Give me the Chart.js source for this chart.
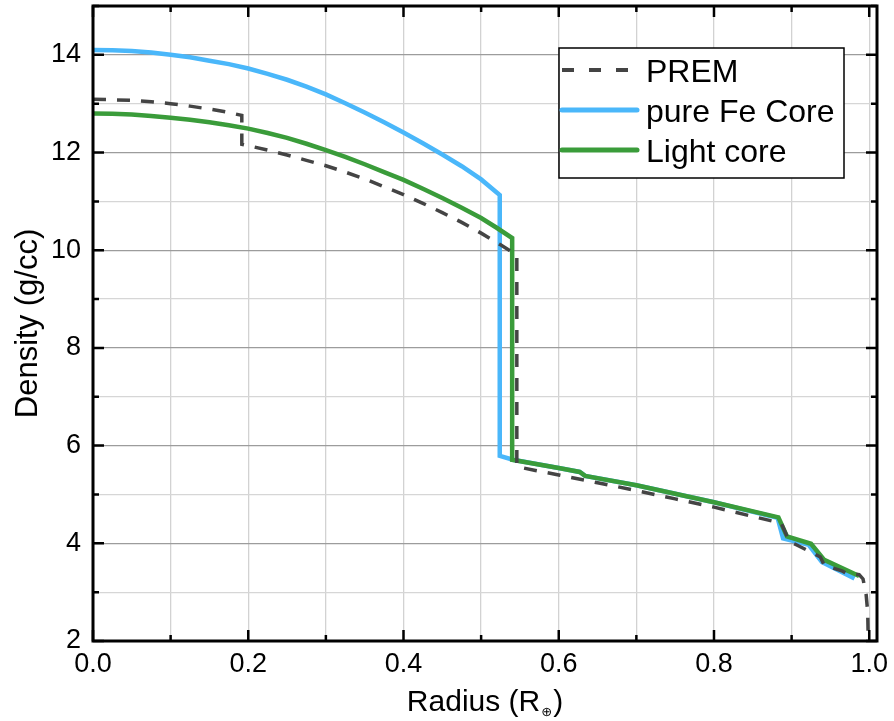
<!DOCTYPE html>
<html>
<head>
<meta charset="utf-8">
<title>Density profile</title>
<script src="https://cdn.jsdelivr.net/npm/chart.js@4.4.0/dist/chart.umd.min.js"></script>
<style>
  html, body { margin: 0; padding: 0; background: #fff; }
  #wrap { width: 894px; height: 721px; }
</style>
</head>
<body>
<div id="wrap"><canvas id="chartDensity" width="894" height="721"></canvas></div>
<script>
// Dados (raio em R_terra, densidade em g/cc)
const premR = [0, 0.025, 0.05, 0.075, 0.1, 0.125, 0.15, 0.175, 0.1917, 0.1917, 0.225, 0.25, 0.275, 0.3, 0.325, 0.35, 0.375, 0.4, 0.425, 0.45, 0.475, 0.5, 0.525, 0.546, 0.546, 0.57, 0.6, 0.65, 0.7, 0.75, 0.8, 0.85, 0.879, 0.887, 0.897, 0.906, 0.925, 0.937, 0.942, 0.9655, 0.97, 0.987, 0.992, 0.996, 0.998, 1.0];
const premRho = [13.09, 13.08, 13.07, 13.04, 13.00, 12.95, 12.89, 12.82, 12.76, 12.17, 12.05, 11.95, 11.84, 11.73, 11.60, 11.46, 11.30, 11.14, 10.96, 10.77, 10.57, 10.35, 10.11, 9.90, 5.57, 5.49, 5.40, 5.24, 5.08, 4.91, 4.74, 4.55, 4.44, 4.40, 4.04, 3.97, 3.82, 3.72, 3.55, 3.43, 3.39, 3.36, 3.27, 2.95, 2.6, 1.02];

const feR = [0, 0.025, 0.05, 0.075, 0.1, 0.125, 0.15, 0.175, 0.2, 0.225, 0.25, 0.275, 0.3, 0.325, 0.35, 0.375, 0.4, 0.425, 0.45, 0.475, 0.5, 0.524, 0.524, 0.541, 0.6, 0.627, 0.634, 0.7, 0.8, 0.882, 0.889, 0.922, 0.939, 0.981];
const feRho = [14.10, 14.095, 14.08, 14.05, 14.00, 13.95, 13.88, 13.81, 13.72, 13.61, 13.49, 13.35, 13.19, 13.01, 12.82, 12.62, 12.41, 12.19, 11.96, 11.72, 11.45, 11.13, 5.79, 5.71, 5.54, 5.46, 5.38, 5.19, 4.84, 4.52, 4.10, 3.97, 3.62, 3.28];

const lightR = [0, 0.025, 0.05, 0.075, 0.1, 0.125, 0.15, 0.175, 0.2, 0.225, 0.25, 0.275, 0.3, 0.325, 0.35, 0.375, 0.4, 0.425, 0.45, 0.475, 0.5, 0.52, 0.54, 0.54, 0.6, 0.627, 0.634, 0.7, 0.8, 0.883, 0.894, 0.925, 0.942, 0.987];
const lightRho = [12.80, 12.795, 12.78, 12.75, 12.71, 12.67, 12.62, 12.56, 12.49, 12.40, 12.30, 12.18, 12.05, 11.91, 11.76, 11.60, 11.44, 11.26, 11.07, 10.87, 10.66, 10.46, 10.25, 5.71, 5.54, 5.46, 5.38, 5.19, 4.84, 4.53, 4.14, 3.99, 3.66, 3.33];

const seriesNames = ['PREM', 'pure Fe Core', 'Light core'];

// Ticks (major = com rótulo)
const xTicks = [0, 0.1, 0.2, 0.3, 0.4, 0.5, 0.6, 0.7, 0.8, 0.9, 1.0];
const xTickLabels = ['0.0', '', '0.2', '', '0.4', '', '0.6', '', '0.8', '', '1.0'];
const yTicks = [2, 3, 4, 5, 6, 7, 8, 9, 10, 11, 12, 13, 14, 15];
const yTickLabels = ['2', '', '4', '', '6', '', '8', '', '10', '', '12', '', '14', ''];

const FONT = "'Liberation Sans', Arial, 'DejaVu Sans', sans-serif";
const COLORS = { prem: '#444444', fe: '#4ab7fa', light: '#3a9c3a' };

function toPoints(xs, ys) {
    return xs.map((x, i) => ({ x: x, y: ys[i] }));
}

// Moldura, ticks internos, legenda e títulos dos eixos
const framePlugin = {
    id: 'frame',
    afterDraw(chart) {
        const ctx = chart.ctx;
        const a = chart.chartArea;
        const sx = chart.scales.x, sy = chart.scales.y;
        ctx.save();

        // ticks para dentro, nos quatro lados
        ctx.strokeStyle = '#000';
        ctx.lineWidth = 2.5;
        xTicks.forEach((v, i) => {
            const px = sx.getPixelForValue(v);
            const len = xTickLabels[i] ? 11 : 6;
            ctx.beginPath();
            ctx.moveTo(px, a.bottom); ctx.lineTo(px, a.bottom - len);
            ctx.moveTo(px, a.top); ctx.lineTo(px, a.top + len);
            ctx.stroke();
        });
        yTicks.forEach((v, i) => {
            const py = sy.getPixelForValue(v);
            const len = yTickLabels[i] ? 11 : 6;
            ctx.beginPath();
            ctx.moveTo(a.left, py); ctx.lineTo(a.left + len, py);
            ctx.moveTo(a.right, py); ctx.lineTo(a.right - len, py);
            ctx.stroke();
        });

        ctx.lineWidth = 3;
        ctx.strokeRect(a.left, a.top, a.right - a.left, a.bottom - a.top);

        // legenda
        const lx = 559, ly = 48, lw = 285, lh = 130;
        ctx.fillStyle = '#fff';
        ctx.fillRect(lx, ly, lw, lh);
        ctx.lineWidth = 1.5;
        ctx.strokeRect(lx, ly, lw, lh);
        const rows = [
            { name: seriesNames[0], color: COLORS.prem, dash: [12, 15], width: 4 },
            { name: seriesNames[1], color: COLORS.fe, dash: [], width: 5 },
            { name: seriesNames[2], color: COLORS.light, dash: [], width: 5 }
        ];
        ctx.font = '32px ' + FONT;
        ctx.textBaseline = 'alphabetic';
        ctx.textAlign = 'left';
        rows.forEach((r, i) => {
            const y = 70 + i * 40;
            ctx.strokeStyle = r.color;
            ctx.lineWidth = r.width;
            ctx.lineCap = r.dash.length ? 'butt' : 'round';
            ctx.setLineDash(r.dash);
            ctx.beginPath();
            ctx.moveTo(562, y); ctx.lineTo(637, y);
            ctx.stroke();
            ctx.setLineDash([]);
            ctx.fillStyle = '#000';
            ctx.fillText(r.name, 646, y + 12);
        });

        // título do eixo x com subscrito
        ctx.fillStyle = '#000';
        const t1 = 'Radius (R', t3 = ')';
        ctx.font = '30px ' + FONT;
        const w1 = ctx.measureText(t1).width;
        const w3 = ctx.measureText(t3).width;
        ctx.font = '13px ' + FONT;
        const w2 = ctx.measureText('\u2295').width;
        const cx = (a.left + a.right) / 2;
        const x0 = cx - (w1 + w2 + w3 + 2) / 2;
        const base = 711;
        ctx.font = '30px ' + FONT;
        ctx.fillText(t1, x0, base);
        ctx.font = '13px ' + FONT;
        ctx.fillText('\u2295', x0 + w1 + 1, base + 5);
        ctx.font = '30px ' + FONT;
        ctx.fillText(t3, x0 + w1 + w2 + 2, base);

        // título do eixo y
        ctx.font = '31px ' + FONT;
        ctx.translate(37, (a.top + a.bottom) / 2);
        ctx.rotate(-Math.PI / 2);
        ctx.textAlign = 'center';
        ctx.fillText('Density (g/cc)', 0, 0);

        ctx.restore();
    }
};

document.addEventListener('DOMContentLoaded', function () {
    const canvas = document.getElementById('chartDensity');

    new Chart(canvas, {
        type: 'line',
        data: {
            datasets: [
                {
                    label: seriesNames[0],
                    data: toPoints(premR, premRho),
                    borderColor: COLORS.prem,
                    borderWidth: 3.5,
                    borderDash: [13, 11],
                    order: 0
                },
                {
                    label: seriesNames[1],
                    data: toPoints(feR, feRho),
                    borderColor: COLORS.fe,
                    borderWidth: 4.5,
                    order: 2
                },
                {
                    label: seriesNames[2],
                    data: toPoints(lightR, lightRho),
                    borderColor: COLORS.light,
                    borderWidth: 4.5,
                    order: 1
                }
            ]
        },
        options: {
            responsive: false,
            animation: false,
            events: [],
            layout: { padding: { top: 6, right: 17, left: 0, bottom: 0 } },
            elements: {
                point: { radius: 0 },
                line: { tension: 0, borderJoinStyle: 'miter', fill: false }
            },
            plugins: {
                legend: { display: false },
                tooltip: { enabled: false },
                title: { display: false }
            },
            scales: {
                x: {
                    type: 'linear',
                    min: 0,
                    max: 1.01,
                    afterBuildTicks: (s) => { s.ticks = xTicks.map(v => ({ value: v })); },
                    afterFit: (s) => { s.height = 80; s.paddingLeft = 0; s.paddingRight = 0; },
                    ticks: {
                        autoSkip: false,
                        maxRotation: 0,
                        padding: 7,
                        color: '#000',
                        font: { family: FONT, size: 27 },
                        callback: (v, i) => xTickLabels[i]
                    },
                    grid: { color: '#d2d2d2', lineWidth: 1.3, drawTicks: false },
                    border: { display: false }
                },
                y: {
                    type: 'linear',
                    min: 2,
                    max: 15,
                    afterBuildTicks: (s) => { s.ticks = yTicks.map(v => ({ value: v })); },
                    afterFit: (s) => { s.width = 93; s.paddingTop = 0; s.paddingBottom = 0; },
                    ticks: {
                        autoSkip: false,
                        padding: 12,
                        color: '#000',
                        font: { family: FONT, size: 27 },
                        callback: (v, i) => yTickLabels[i]
                    },
                    grid: {
                        color: (c) => (c.tick && c.tick.value % 2 === 0) ? '#9c9c9c' : '#d6d6d6',
                        lineWidth: 1.3,
                        drawTicks: false
                    },
                    border: { display: false }
                }
            }
        },
        plugins: [framePlugin]
    });
});
</script>
</body>
</html>
